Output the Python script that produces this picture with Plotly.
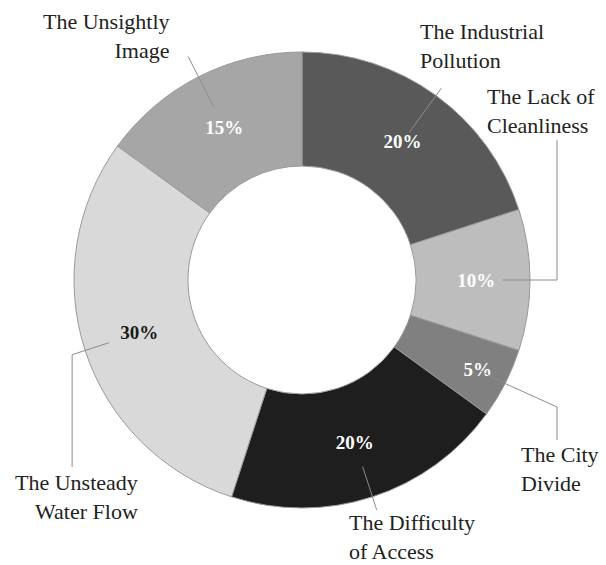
import math
import plotly.graph_objects as go

# ---- data ----
categories = ["The Industrial Pollution", "The Lack of Cleanliness", "The City Divide",
              "The Difficulty of Access", "The Unsteady Water Flow", "The Unsightly Image"]
label_text = ["The Industrial<br>Pollution", "The Lack of<br>Cleanliness", "The City<br>Divide",
              "The Difficulty<br>of Access", "The Unsteady<br>Water Flow", "The Unsightly<br>Image"]
values = [20, 10, 5, 20, 30, 15]

# ---- style ----
slice_colors = ["#595959", "#bdbdbd", "#808080", "#1e1e1e", "#d9d9d9", "#a6a6a6"]
pct_colors = ["white", "white", "white", "white", "#1a1a1a", "white"]
W, H = 606, 565
cx, cy, R = 302, 280, 228
ml, mt = cx - R, cy - R
mr, mb = W - cx - R, H - cy - R
FONT = "Liberation Serif"

def px(x):
    return (x - ml) / (2 * R)

def py(y):
    return (mt + 2 * R - y) / (2 * R)

# mid angles (clockwise from 12 o'clock) derived from data
total = sum(values)
mids = []
acc = 0
for v in values:
    mids.append((acc + v / 2) / total * 360)
    acc += v

def polar(ang, rf):
    a = math.radians(ang)
    return (cx + rf * R * math.sin(a), cy - rf * R * math.cos(a))

# leader routing: start radius fraction, then waypoints (either ('r', frac) radial or pixel points)
leaders = [
    [0.80, ("r", 1.04)],
    [0.88, (557, None), (557, 140)],
    [0.88, ("r", 1.00), (557, 407), (557, 440)],
    [0.86, ("r", 1.06)],
    [0.89, ("r", 1.06), (None, 467)],
    [0.85, ("r", 1.10)],
]

# label placement (pixel), anchor & alignment
label_pos = [
    (418, 46, "left"),
    (485, 111, "left"),
    (519, 469, "left"),
    (347, 537, "left"),
    (140, 497, "right"),
    (172, 36, "right"),
]

fig = go.Figure(go.Pie(
    values=values,
    labels=categories,
    hole=0.5,
    sort=False,
    direction="clockwise",
    rotation=0,
    texttemplate="%{value}%",
    textposition="inside",
    insidetextorientation="horizontal",
    textfont=dict(family=FONT, size=19, color=pct_colors, weight="bold"),
    marker=dict(colors=slice_colors, line=dict(color="#9a9a9a", width=1)),
    hoverinfo="label+percent",
    showlegend=False,
))

shapes = []
for i, cfg in enumerate(leaders):
    pts = [polar(mids[i], cfg[0])]
    for wp in cfg[1:]:
        if wp[0] == "r":
            pts.append(polar(mids[i], wp[1]))
        else:
            x = wp[0] if wp[0] is not None else pts[-1][0]
            y = wp[1] if wp[1] is not None else pts[-1][1]
            pts.append((x, y))
    path = "M " + " L ".join(f"{px(x):.4f},{py(y):.4f}" for x, y in pts)
    shapes.append(dict(type="path", xref="paper", yref="paper", path=path,
                       line=dict(color="#8c8c8c", width=1)))

annotations = []
for i, (x, y, al) in enumerate(label_pos):
    annotations.append(dict(
        x=px(x), y=py(y), xref="paper", yref="paper",
        text=label_text[i], showarrow=False,
        xanchor=al, yanchor="middle", align=al,
        font=dict(family=FONT, size=22, color="#222222"),
    ))

fig.update_layout(
    width=W, height=H,
    margin=dict(l=ml, r=mr, t=mt, b=mb, pad=0),
    paper_bgcolor="white", plot_bgcolor="white",
    shapes=shapes, annotations=annotations,
    font=dict(family=FONT),
)

fig.write_html("out.html")
